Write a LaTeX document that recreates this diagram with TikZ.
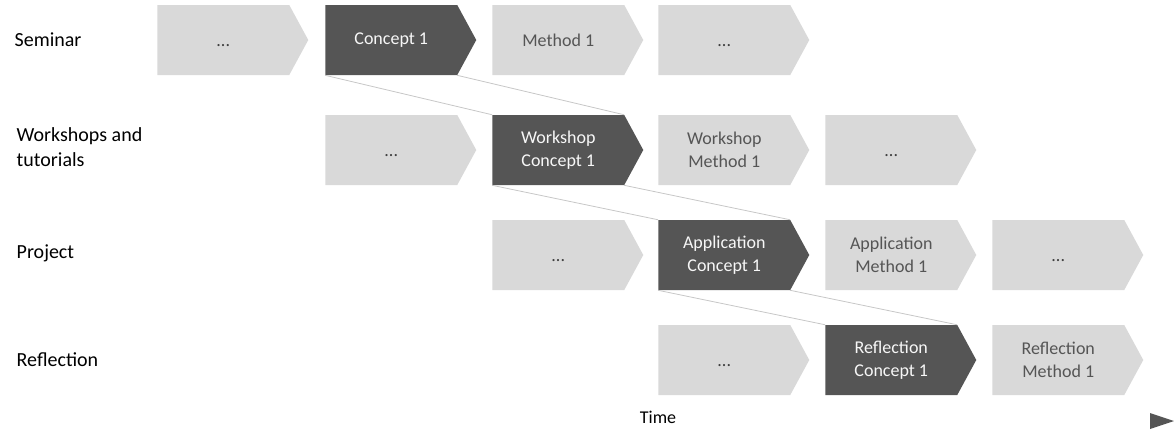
\documentclass[tikz,border=0pt]{standalone}
\usepackage{fontspec}
\setmainfont{Carlito}
\usetikzlibrary{shapes.symbols}
\definecolor{stepgray}{HTML}{D9D9D9}
\definecolor{stepdark}{HTML}{555555}
\newcommand\moredots{\raisebox{-5pt}[0pt][0pt]{...}}
\begin{document}
\begin{tikzpicture}[
    x=0.75pt, y=-0.75pt,
    phase/.style={signal, signal to=east, signal pointer angle=123, draw=none,
      fill=stepgray, text=stepdark, minimum width=113.25pt, minimum height=52.5pt,
      inner sep=0pt, align=center, anchor=west,
      font=\fontsize{13.5}{17}\selectfont},
    current/.style={phase, fill=stepdark, text=white!80!stepgray},
    more/.style={phase, text=black!75},
    rowlabel/.style={anchor=west, align=left, font=\fontsize{15}{19}\selectfont},
    link/.style={draw=black!22, line width=0.6pt}
  ]
    \useasboundingbox (0,0) rectangle (1174,429);

    % Row labels
    \node[rowlabel] (lsem)  at (10,40)  {Seminar};
    \node[rowlabel] (lws)   at (12,147) {Workshops and\\tutorials};
    \node[rowlabel] (lproj) at (12,253) {Project};
    \node[rowlabel] (lrefl) at (12,360) {Reflection};

    % Seminar
    \node[more]    (semA) at (157,40) {\moredots};
    \node[current] (semB) at (325,40) {Concept 1};
    \node[phase]   (semC) at (492,40) {Method 1};
    \node[more]    (semD) at (658,40) {\moredots};

    % Workshops and tutorials
    \node[more]    (wsA) at (325,150) {\moredots};
    \node[current] (wsB) at (492,150) {Workshop\\Concept 1};
    \node[phase]   (wsC) at (658,150) {Workshop\\Method 1};
    \node[more]    (wsD) at (825,150) {\moredots};

    % Project
    \node[more]    (prA) at (492,255) {\moredots};
    \node[current] (prB) at (658,255) {Application\\Concept 1};
    \node[phase]   (prC) at (825,255) {Application\\Method 1};
    \node[more]    (prD) at (992,255) {\moredots};

    % Reflection
    \node[more]    (reA) at (658,360) {\moredots};
    \node[current] (reB) at (825,360) {Reflection\\Concept 1};
    \node[phase]   (reC) at (992,360) {Reflection\\Method 1};

    % Links between the current steps
    \foreach \from/\to in {semB/wsB, wsB/prB, prB/reB} {
      \draw[link] (\from.south west) -- (\to.north west);
      \draw[link] ([xshift=99pt]\from.south west) -- ([xshift=99pt]\to.north west);
    }

    % Time axis
    \node[font=\fontsize{13.5}{16}\selectfont] (time) at (658,417) {Time};
    \fill[stepdark] (1150,413) -- (1174,421) -- (1150,429) -- cycle;

  \end{tikzpicture}
\end{document}
